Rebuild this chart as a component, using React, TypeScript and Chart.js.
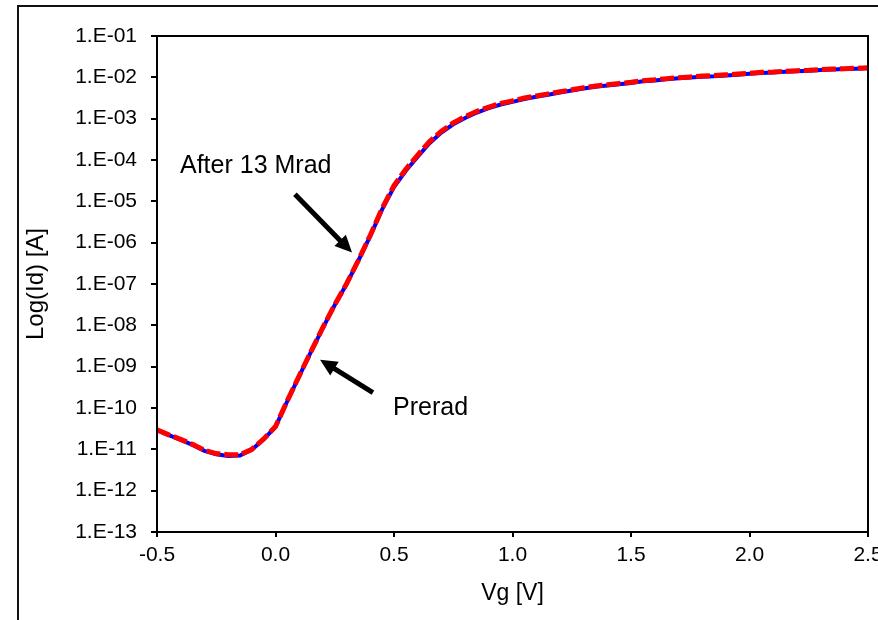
import { useEffect, useRef } from "react";
import { Chart, registerables } from "chart.js";

Chart.register(...registerables);

// Gate voltage (V)
const vg = [
  -0.5, -0.45, -0.4, -0.35, -0.3, -0.25, -0.2, -0.15, -0.1, -0.05,
  0.0, 0.05, 0.1, 0.15, 0.2, 0.25, 0.3, 0.35, 0.4, 0.45,
  0.5, 0.55, 0.6, 0.65, 0.7, 0.75, 0.8, 0.85, 0.9, 0.95,
  1.0, 1.05, 1.1, 1.15, 1.2, 1.25, 1.3, 1.35, 1.4, 1.45,
  1.5, 1.55, 1.6, 1.65, 1.7, 1.75, 1.8, 1.85, 1.9, 1.95,
  2.0, 2.05, 2.1, 2.15, 2.2, 2.25, 2.3, 2.35, 2.4, 2.45, 2.5,
];

// Drain current after 13 Mrad (A)
const idAfter = [
  2.95e-11, 2.24e-11, 1.74e-11, 1.32e-11, 9.5e-12, 7.9e-12, 7.4e-12, 7.4e-12, 1.0e-11, 1.78e-11,
  3.55e-11, 1.51e-10, 6.0e-10, 2.34e-9, 8.9e-9, 3.16e-8, 1.02e-7, 3.8e-7, 1.51e-6, 6.8e-6,
  2.4e-5, 6.0e-5, 1.32e-4, 2.8e-4, 5.0e-4, 7.9e-4, 1.12e-3, 1.51e-3, 1.91e-3, 2.34e-3,
  2.7e-3, 3.16e-3, 3.55e-3, 3.98e-3, 4.47e-3, 5.0e-3, 5.6e-3, 6.2e-3, 6.6e-3, 7.1e-3,
  7.6e-3, 8.3e-3, 8.7e-3, 9.3e-3, 9.8e-3, 1.02e-2, 1.07e-2, 1.1e-2, 1.15e-2, 1.2e-2,
  1.26e-2, 1.32e-2, 1.35e-2, 1.41e-2, 1.45e-2, 1.48e-2, 1.55e-2, 1.58e-2, 1.62e-2, 1.66e-2, 1.7e-2,
];

// Drain current prerad (A)
const idPrerad = [
  2.9e-11, 2.2e-11, 1.7e-11, 1.28e-11, 9.2e-12, 7.6e-12, 6.9e-12, 7.1e-12, 9.8e-12, 1.75e-11,
  3.5e-11, 1.48e-10, 5.9e-10, 2.3e-9, 8.7e-9, 3.1e-8, 1.0e-7, 3.7e-7, 1.46e-6, 6.4e-6,
  2.2e-5, 5.5e-5, 1.2e-4, 2.55e-4, 4.6e-4, 7.3e-4, 1.04e-3, 1.41e-3, 1.79e-3, 2.2e-3,
  2.55e-3, 3.0e-3, 3.38e-3, 3.8e-3, 4.28e-3, 4.8e-3, 5.35e-3, 5.95e-3, 6.35e-3, 6.8e-3,
  7.3e-3, 8.0e-3, 8.4e-3, 8.95e-3, 9.45e-3, 9.85e-3, 1.03e-2, 1.06e-2, 1.11e-2, 1.16e-2,
  1.22e-2, 1.28e-2, 1.31e-2, 1.37e-2, 1.41e-2, 1.44e-2, 1.51e-2, 1.54e-2, 1.58e-2, 1.62e-2, 1.66e-2,
];

const yTickValues = [1e-1, 1e-2, 1e-3, 1e-4, 1e-5, 1e-6, 1e-7, 1e-8, 1e-9, 1e-10, 1e-11, 1e-12, 1e-13];
const yTickLabels = [
  "1.E-01", "1.E-02", "1.E-03", "1.E-04", "1.E-05", "1.E-06", "1.E-07",
  "1.E-08", "1.E-09", "1.E-10", "1.E-11", "1.E-12", "1.E-13",
];
const xTickLabels = ["-0.5", "0.0", "0.5", "1.0", "1.5", "2.0", "2.5"];

// Annotations (data coordinates: [Vg, Id])
const noteTexts = ["After 13 Mrad", "Prerad"];
const noteAnchors = [
  [-0.403, 4.8e-5],
  [0.496, 6.9e-11],
];
const arrowTails = [
  [0.082, 1.48e-5],
  [0.411, 2.34e-10],
];
const arrowTips = [
  [0.323, 5.75e-7],
  [0.188, 1.48e-9],
];

const FONT = "'Liberation Sans', Arial, Helvetica, sans-serif";

export default function App() {
  const ref = useRef<HTMLCanvasElement | null>(null);

  useEffect(() => {
    if (!ref.current) return;

    const decor = {
      id: "decor",
      beforeDraw(chart: any) {
        const ctx = chart.ctx;
        ctx.save();
        ctx.strokeStyle = "#111";
        ctx.lineWidth = 2;
        ctx.beginPath();
        ctx.moveTo(18, 640);
        ctx.lineTo(18, 6);
        ctx.lineTo(900, 6);
        ctx.stroke();
        ctx.restore();
      },
      afterDraw(chart: any) {
        const ctx = chart.ctx;
        const a = chart.chartArea;
        const xs = chart.scales.x;
        const ys = chart.scales.y;
        ctx.save();
        ctx.strokeStyle = "#000";
        ctx.lineWidth = 2;
        ctx.strokeRect(a.left, a.top, a.right - a.left, a.bottom - a.top);

        ctx.fillStyle = "#000";
        ctx.font = `25px ${FONT}`;
        ctx.textAlign = "left";
        ctx.textBaseline = "alphabetic";
        noteTexts.forEach((t, i) => {
          ctx.fillText(t, xs.getPixelForValue(noteAnchors[i][0]), ys.getPixelForValue(noteAnchors[i][1]));
        });

        arrowTails.forEach((tail, i) => {
          const x0 = xs.getPixelForValue(tail[0]);
          const y0 = ys.getPixelForValue(tail[1]);
          const x1 = xs.getPixelForValue(arrowTips[i][0]);
          const y1 = ys.getPixelForValue(arrowTips[i][1]);
          const dx = x1 - x0;
          const dy = y1 - y0;
          const len = Math.hypot(dx, dy);
          const ux = dx / len;
          const uy = dy / len;
          const head = 17;
          const hw = 8;
          const bx = x1 - ux * head;
          const by = y1 - uy * head;
          ctx.lineWidth = 5;
          ctx.lineCap = "butt";
          ctx.beginPath();
          ctx.moveTo(x0, y0);
          ctx.lineTo(bx + ux * 2, by + uy * 2);
          ctx.stroke();
          ctx.beginPath();
          ctx.moveTo(x1, y1);
          ctx.lineTo(bx - uy * hw, by + ux * hw);
          ctx.lineTo(bx + uy * hw, by - ux * hw);
          ctx.closePath();
          ctx.fill();
        });
        ctx.restore();
      },
    };

    const chart = new Chart(ref.current, {
      type: "line",
      data: {
        datasets: [
          {
            label: "After 13 Mrad",
            data: vg.map((v, i) => ({ x: v, y: idAfter[i] })),
            borderColor: "#ff0000",
            borderWidth: 5,
            borderDash: [14, 4],
            pointRadius: 0,
            tension: 0,
            fill: false,
          },
          {
            label: "Prerad",
            data: vg.map((v, i) => ({ x: v, y: idPrerad[i] })),
            borderColor: "#0000ff",
            borderWidth: 4,
            pointRadius: 0,
            tension: 0,
            fill: false,
          },
        ],
      },
      options: {
        animation: false,
        responsive: false,
        devicePixelRatio: 1,
        layout: { padding: { top: 36, right: 10, left: 0, bottom: 0 } },
        plugins: {
          legend: { display: false },
          tooltip: { enabled: false },
        },
        scales: {
          x: {
            type: "linear",
            min: -0.5,
            max: 2.5,
            afterFit: (s: any) => {
              s.height = 88;
              s.paddingLeft = 0;
              s.paddingRight = 0;
            },
            afterBuildTicks: (s: any) => {
              s.ticks = xTickLabels.map((l) => ({ value: parseFloat(l) }));
            },
            ticks: {
              color: "#000",
              font: { family: FONT, size: 21 },
              padding: 6,
              maxRotation: 0,
              autoSkip: false,
              callback: (_v: any, i: number) => xTickLabels[i],
            },
            grid: { drawOnChartArea: false, drawTicks: true, tickLength: 5, color: "#000", lineWidth: 2 },
            border: { display: false },
            title: {
              display: true,
              text: "Vg [V]",
              color: "#000",
              font: { family: FONT, size: 23 },
              padding: { top: 0, bottom: 13 },
            },
          },
          y: {
            type: "logarithmic",
            min: 1e-13,
            max: 1e-1,
            afterFit: (s: any) => {
              s.width = 157;
              s.paddingTop = 0;
              s.paddingBottom = 0;
            },
            afterBuildTicks: (s: any) => {
              s.ticks = yTickValues.map((v) => ({ value: v }));
            },
            ticks: {
              color: "#000",
              font: { family: FONT, size: 21 },
              padding: 14,
              autoSkip: false,
              callback: (_v: any, i: number) => yTickLabels[i],
            },
            grid: { drawOnChartArea: false, drawTicks: true, tickLength: 6, color: "#000", lineWidth: 2 },
            border: { display: false },
            title: {
              display: true,
              text: "Log(Id) [A]",
              color: "#000",
              font: { family: FONT, size: 24 },
              padding: { top: 22, bottom: 0 },
            },
          },
        },
      },
      plugins: [decor],
    });

    return () => chart.destroy();
  }, []);

  return (
    <div style={{ position: "absolute", left: 0, top: 0, width: 878, height: 620, background: "#fff" }}>
      <canvas ref={ref} width={878} height={620} style={{ width: 878, height: 620, display: "block" }} />
    </div>
  );
}
